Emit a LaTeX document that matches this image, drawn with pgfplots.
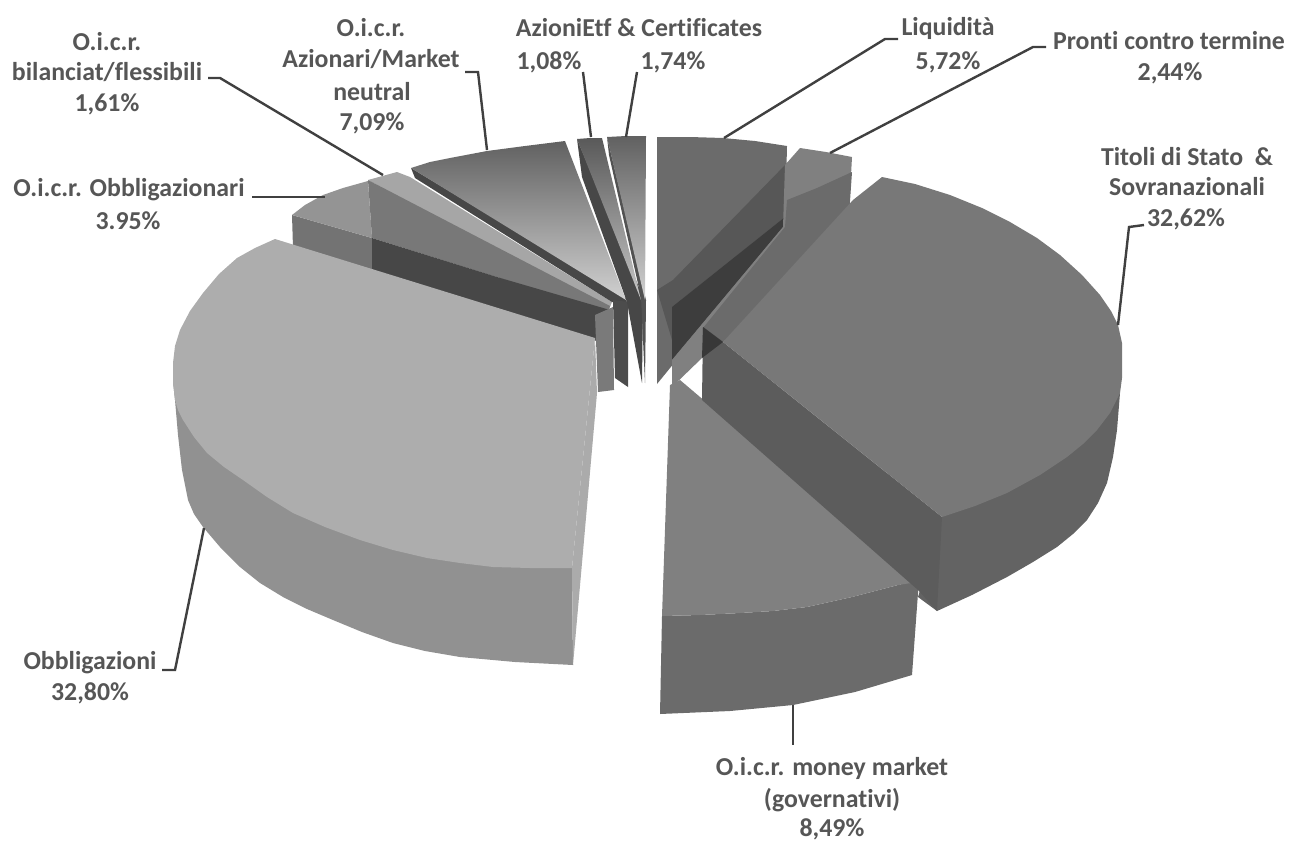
\documentclass[border=0pt]{standalone}
\usepackage{pgfplots}
\pgfplotsset{compat=1.18}
\usepackage{fontspec}
\setmainfont[Ligatures=NoCommon]{Carlito}
\definecolor{txt}{HTML}{565656}
\definecolor{ln}{HTML}{404040}
\newcommand{\poly}[2]{\addplot[draw=none,fill=#1] coordinates {#2} -- cycle;}
\newcommand{\lead}[1]{\addplot[ln,line width=2.4pt] coordinates {#1};}
\newcommand{\lab}[3]{\node[anchor=center,inner sep=0pt,text=txt,font=\fontsize{25.8}{30}\selectfont\bfseries] at (axis cs:#1,#2) {#3};}
\begin{document}
\begin{tikzpicture}
\begin{axis}[hide axis,scale only axis,width=1289pt,height=844pt,xmin=0,xmax=1289,ymin=0,ymax=844,y dir=reverse,clip=false]
\path[use as bounding box] (axis cs:0,0) rectangle (axis cs:1289,844);
% --- back left slices
\poly{black!55}{(292,215)(372,238)(372,272)(293,248)}
\poly{black!42}{(292,215)(305,205)(323,195)(343,188)(368,181)(372,238)}
\poly{black!35}{(368,180)(397,172)(410,177)(612,302)(608,312)}
\poly{black!53}{(368,180)(610,306)(608,312)(372,238)}
\poly{black!72}{(372,238)(497,277)(610,310)(600,342)(372,272)}
\poly{black!52}{(595,315)(613,307)(614,390)(598,392)}
\poly{black!72}{(411,168)(415,178)(612,302)(627,303)(626,298)}
\addplot[draw=none,top color=black!62,bottom color=black!18] coordinates {(411,168)(430,162)(450,158)(487,151)(525,146)(565,141)(626,300)} -- cycle;
\poly{black!70}{(613,300)(628,302)(628,387)(615,378)}
\poly{black!72}{(577,139)(582,177)(627,302)(642,383)(643,297)}
\addplot[draw=none,top color=black!65,bottom color=black!22] coordinates {(577,139)(590,138)(602,138)(641,300)} -- cycle;
\poly{black!68}{(607,137)(609,155)(641,297)(645,383)(646,300)}
\addplot[draw=none,top color=black!62,bottom color=black!18] coordinates {(607,137)(626,136)(646,136)(645,300)} -- cycle;
% --- Obbligazioni
\poly{black!43}{(173,363)(173,382)(175,400)(178,435)(182,470)(188,500)(194,514)(203,527)(220,547)(240,567)(260,583)(283,597)(307,609)(333,620)(362,632)(393,643)(425,651)(460,657)(515,662)(573,665)(572,568)(400,400)}
\poly{black!33}{(595,338)(597,393)(573,665)(572,568)}
\poly{black!32}{(275,239)(255,248)(237,258)(219,274)(203,293)(190,311)(180,330)(175,346)(173,363)(173,382)(175,400)(178,410)(183,420)(194,437)(207,453)(224,467)(243,480)(267,497)(293,513)(325,527)(360,540)(393,550)(427,558)(460,563)(493,567)(530,568)(572,568)(595,338)}
% --- Liquidita
\poly{black!58}{(657,137)(690,137)(723,138)(755,141)(787,146)(785,227)(657,384)}
\poly{black!66}{(657,290)(673,280)(787,163)(785,217)(672,307)(672,340)}
\poly{black!76}{(785,217)(783,227)(672,360)(672,307)}
% --- Pronti contro termine
\poly{black!50}{(785,165)(800,148)(826,152)(852,157)(848,230)(723,342)(703,357)(672,387)(672,360)(783,227)}
\poly{black!58}{(787,200)(817,188)(852,172)(848,230)(723,342)(703,328)(785,227)}
% --- O.i.c.r. money market
\poly{black!58}{(662,616)(700,615)(740,613)(773,611)(807,607)(852,597)(898,585)(918,580)(918,593)(912,675)(855,692)(793,705)(730,711)(660,714)}
\poly{black!50}{(670,385)(680,380)(918,582)(898,585)(852,597)(807,607)(773,611)(740,613)(700,615)(662,616)}
% --- Titoli di Stato
\poly{black!61}{(942,517)(1120,393)(1117,430)(1113,457)(1107,483)(1098,503)(1087,520)(1073,534)(1057,547)(1033,562)(1007,577)(972,595)(937,611)(918,597)}
\poly{black!64}{(723,342)(703,327)(702,400)(918,590)(937,611)(942,517)}
\poly{black!78}{(703,327)(723,342)(702,358)}
\poly{black!53}{(723,342)(853,200)(882,177)(915,184)(950,195)(982,208)(1010,222)(1037,238)(1060,255)(1082,275)(1100,295)(1111,311)(1118,325)(1122,343)(1122,360)(1122,378)(1120,393)(1110,413)(1097,430)(1083,444)(1067,457)(1040,475)(1007,493)(975,506)(942,517)}
% --- leader lines
\lead{(898,39)(885,39)(724,138)}
\lead{(1046,47)(1033,47)(830,153)}
\lead{(1144,225)(1129,227)(1118,325)}
\lead{(793,705)(793,745)}
\lead{(162,670)(175,670)(204,528)}
\lead{(252,197)(325,197)}
\lead{(208,78)(220,78)(383,175)}
\lead{(465,72)(478,72)(487,150)}
\lead{(583,72)(591,137)}
\lead{(637,72)(626,137)}
% --- labels
\lab{107}{42}{O.i.c.r.}
\lab{107}{72}{bilanciat/flessibili}
\lab{107}{104}{1,61\%}
\lab{371}{28}{O.i.c.r.}
\lab{371}{59}{Azionari/Market}
\lab{372}{92}{neutral}
\lab{372}{123}{7,09\%}
\lab{639}{28}{AzioniEtf \& Certificates}
\lab{549}{62}{1,08\%}
\lab{673}{62}{1,74\%}
\lab{948}{28}{Liquidità}
\lab{948}{62}{5,72\%}
\lab{1169}{41}{Pronti contro termine}
\lab{1170}{73}{2,44\%}
\lab{1187}{157}{Titoli di Stato\ \ \&}
\lab{1187}{187}{Sovranazionali}
\lab{1186}{219}{32,62\%}
\lab{129}{190}{O.i.c.r. Obbligazionari}
\lab{128}{221}{3.95\%}
\lab{90}{663}{Obbligazioni}
\lab{90}{693}{32,80\%}
\lab{832}{768}{O.i.c.r. money market}
\lab{832}{800}{(governativi)}
\lab{832}{829}{8,49\%}
\end{axis}
\end{tikzpicture}
\end{document}
